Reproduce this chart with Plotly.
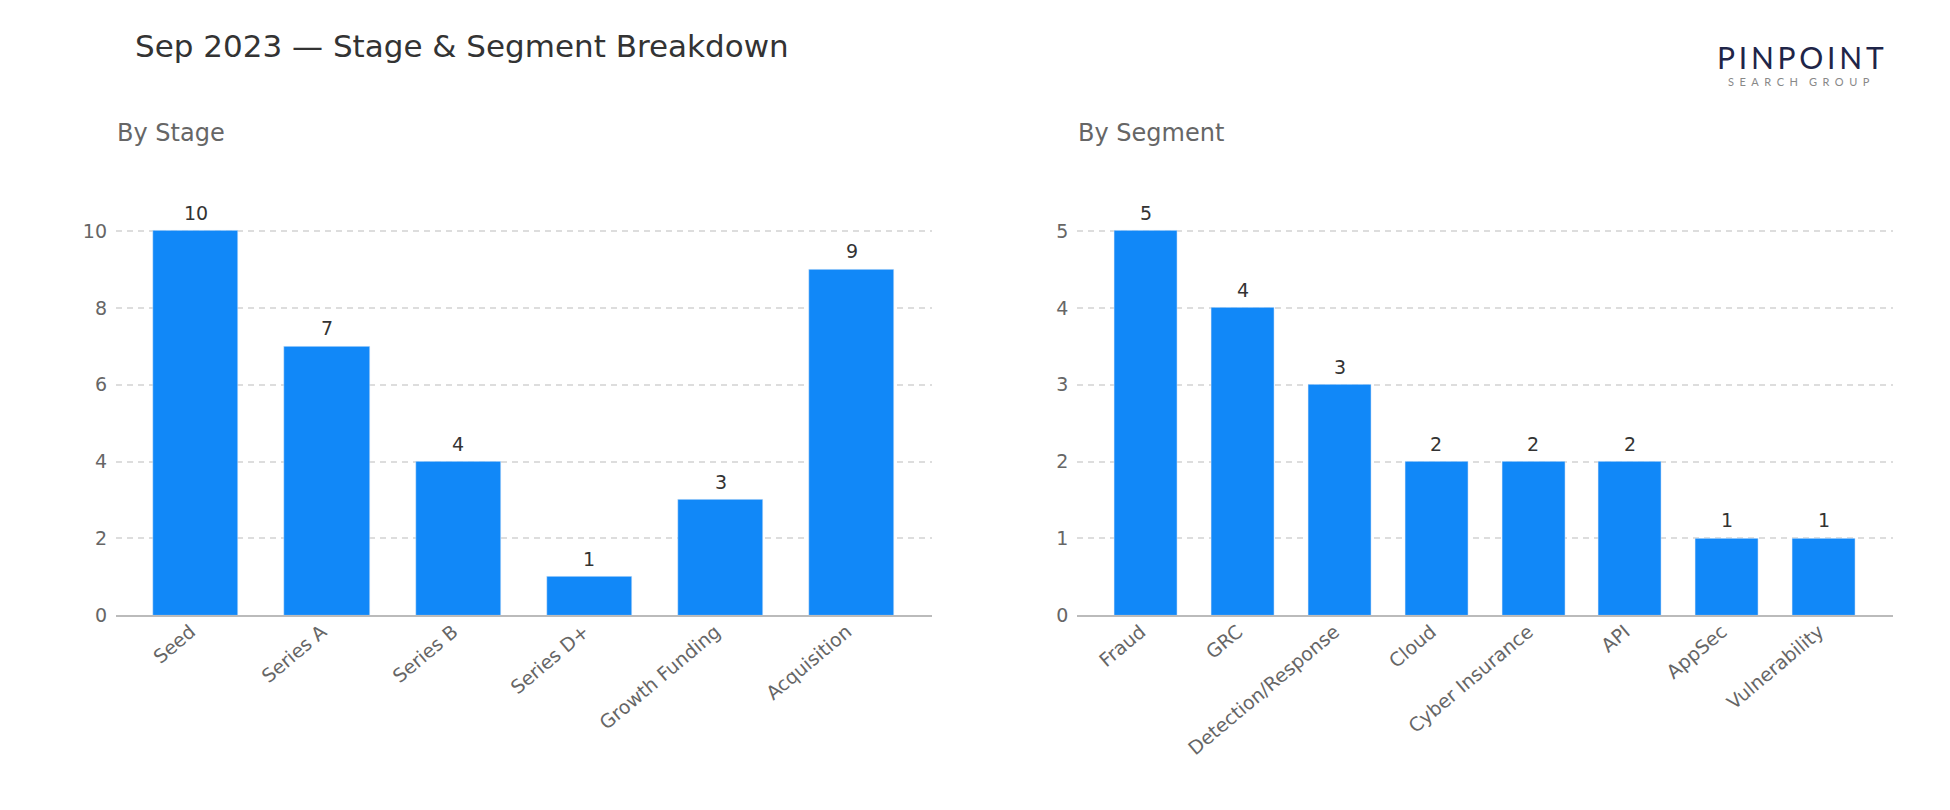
import plotly.graph_objects as go

stages = ["Seed", "Series A", "Series B", "Series D+", "Growth Funding", "Acquisition"]
stage_counts = [10, 7, 4, 1, 3, 9]

segments = ["Fraud", "GRC", "Detection/Response", "Cloud", "Cyber Insurance", "API", "AppSec", "Vulnerability"]
segment_counts = [5, 4, 3, 2, 2, 2, 1, 1]

title_text = "Sep 2023 — Stage & Segment Breakdown"
sub_left = "By Stage"
sub_right = "By Segment"

W, H = 1950, 810
BAR = "#1188f8"
FONT = "DejaVu Sans"

def px_x(p):
    return p / W

def px_y(p):
    return 1 - p / H

fig = go.Figure()
fig.add_trace(go.Bar(x=list(range(len(stages))), y=stage_counts, marker_color=BAR,
                     width=0.65, xaxis="x", yaxis="y", hoverinfo="skip"))
fig.add_trace(go.Bar(x=list(range(len(segments))), y=segment_counts, marker_color=BAR,
                     width=0.65, xaxis="x2", yaxis="y2", hoverinfo="skip"))

y_top = 192.6
y_bot = 615.3
dom_y = [px_y(y_bot), px_y(y_top)]

tickfont = dict(family=FONT, size=19, color="#666666")
common_x = dict(showgrid=False, zeroline=False, showline=True, linecolor="#bbbbbb", linewidth=2,
                ticks="", tickangle=-40, tickfont=tickfont, tickmode="array", automargin=False,
                ticklabelshift=-5, ticklabelstandoff=-4)
common_y = dict(showgrid=True, gridcolor="#dddddd", griddash="6px,5px", gridwidth=2, zeroline=False,
                showline=False, ticks="", tickfont=tickfont, ticklabelstandoff=8, automargin=False)

n1, n2 = len(stages), len(segments)
fig.update_layout(
    width=W, height=H, margin=dict(l=0, r=0, t=0, b=0, autoexpand=False),
    paper_bgcolor="white", plot_bgcolor="white", showlegend=False,
    bargap=0,
    xaxis=dict(domain=[px_x(116), px_x(931.5)], range=[-0.6075, n1 - 1 + 0.6075],
               tickvals=list(range(n1)), ticktext=stages, anchor="y", **common_x),
    yaxis=dict(domain=dom_y, range=[0, 10 * (y_bot - y_top) / (y_bot - 231)], tickvals=[0, 2, 4, 6, 8, 10],
               anchor="x", **common_y),
    xaxis2=dict(domain=[px_x(1077.3), px_x(1892.5)], range=[-0.7075, n2 - 1 + 0.7075],
                tickvals=list(range(n2)), ticktext=segments, anchor="y2", **common_x),
    yaxis2=dict(domain=dom_y, range=[0, 5 * (y_bot - y_top) / (y_bot - 231)], tickvals=[0, 1, 2, 3, 4, 5],
                anchor="x2", **common_y),
)

ann = []
for i, v in enumerate(stage_counts):
    ann.append(dict(x=i, y=v, xref="x", yref="y", text=str(v), showarrow=False,
                    yanchor="bottom", yshift=5, font=dict(family=FONT, size=19, color="#333333")))
for i, v in enumerate(segment_counts):
    ann.append(dict(x=i, y=v, xref="x2", yref="y2", text=str(v), showarrow=False,
                    yanchor="bottom", yshift=5, font=dict(family=FONT, size=19, color="#333333")))

ann.append(dict(x=px_x(133), y=px_y(46), xref="paper", yref="paper", text=title_text, showarrow=False,
                xanchor="left", yanchor="middle", font=dict(family=FONT, size=31, color="#333333")))
ann.append(dict(x=px_x(115), y=px_y(133), xref="paper", yref="paper", text=sub_left, showarrow=False,
                xanchor="left", yanchor="middle", font=dict(family=FONT, size=24, color="#666666")))
ann.append(dict(x=px_x(1076), y=px_y(133), xref="paper", yref="paper", text=sub_right, showarrow=False,
                xanchor="left", yanchor="middle", font=dict(family=FONT, size=24, color="#666666")))

# logo text
ann.append(dict(x=px_x(1800), y=px_y(57), xref="paper", yref="paper",
                text="\u2009".join("PINPOINT"),
                showarrow=False, xanchor="center", yanchor="middle",
                font=dict(family="Lato", size=30, color="#1f2548", weight=400)))
ann.append(dict(x=px_x(1799), y=px_y(82), xref="paper", yref="paper",
                text="\u2002".join("SEARCH") + "\u2002\u2002" + "\u2002".join("GROUP"),
                showarrow=False, xanchor="center", yanchor="middle",
                font=dict(family="Lato", size=11, color="#888888")))

fig.update_layout(annotations=ann)
fig.write_html("out.html")
